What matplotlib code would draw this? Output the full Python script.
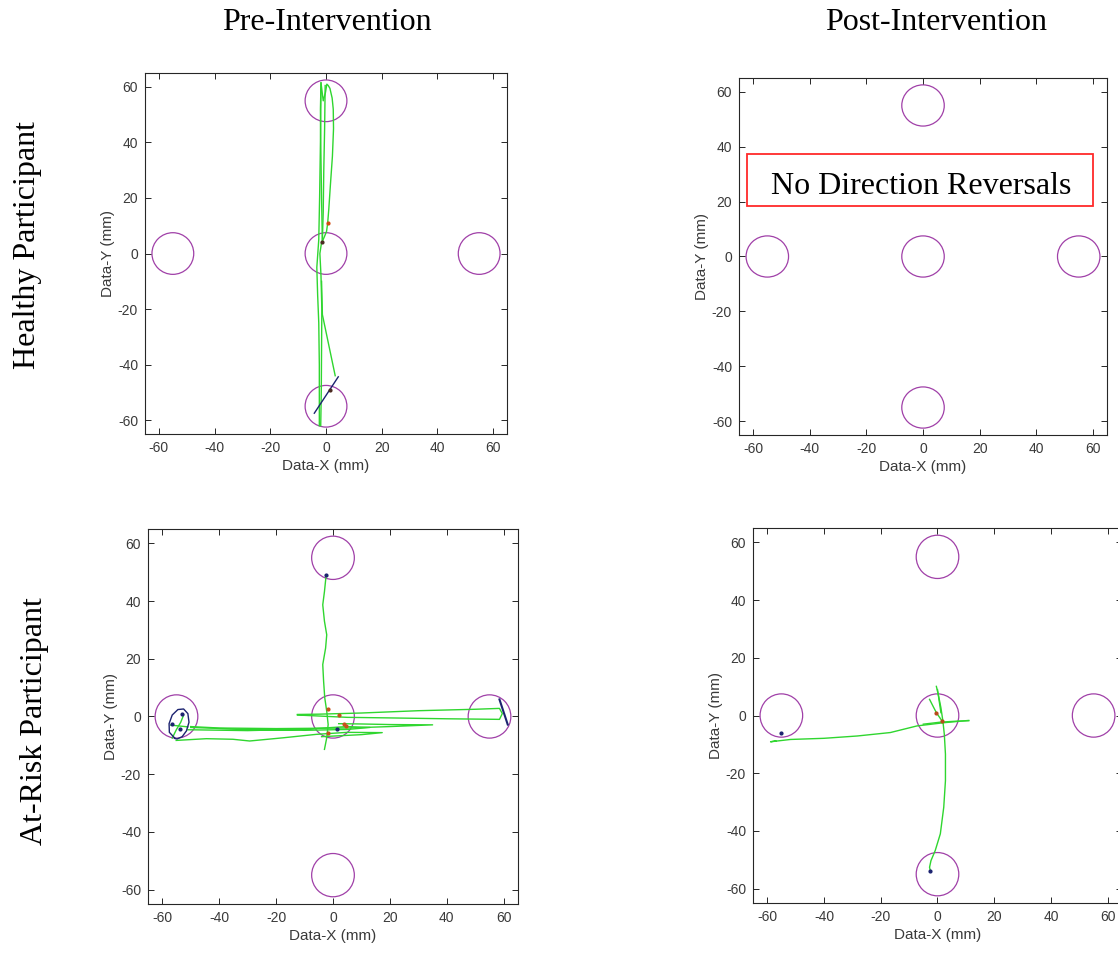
import matplotlib.pyplot as plt
from matplotlib.patches import Circle, Rectangle

# targets (mm)
target_x = [0, 55, 0, -55, 0]
target_y = [0, 0, 55, 0, -55]
target_r = 7.5

ticks = [-60, -40, -20, 0, 20, 40, 60]
col_titles = ["Pre-Intervention", "Post-Intervention"]
row_titles = ["Healthy Participant", "At-Risk Participant"]
note_text = "No Direction Reversals"

# --- healthy, pre-intervention: green trajectories
pre_h_x1 = [-1.3, -1.6, -1.9, -2.0, -1.8, -1.0, -0.2, 0.3, 0.8, 1.4, 2.2, 2.6, 2.7, 2.3, 1.6, 1.0, 0.6, 0.2, -0.6, -1.5]
pre_h_y1 = [4, 20, 40, 52, 61.5, 55, 58, 61.0, 60.5, 59.5, 56, 52, 45, 35, 25, 16, 11, 8, 6, 4]
pre_h_x2 = [-0.3, -0.5, -0.8, -1.0, -1.3]
pre_h_y2 = [60.5, 45, 30, 15, 5]
pre_h_x3 = [-1.8, -2.0, -2.3, -2.6, -3.3, -3.0, -2.6, -2.4, -2.4]
pre_h_y3 = [61.5, 40, 20, 5, -5, -15, -25, -40, -62]
pre_h_x4 = [-1.9, -1.7, -1.6, -1.5, -1.8, -2.2, -1.6]
pre_h_y4 = [-62, -50, -35, -20, -8, 0, 4]
pre_h_x5 = [-1.6, -1.3, 3.3]
pre_h_y5 = [-10, -22, -44]
pre_h_blue_x = [-4.2, 4.4]
pre_h_blue_y = [-57.5, -44.4]
pre_h_red_x = [0.6]
pre_h_red_y = [10.9]
pre_h_dark_x = [-1.3, 1.5]
pre_h_dark_y = [4.0, -49.0]

# --- at-risk, pre-intervention
pre_r_x1 = [-2.4, -3.0, -3.6, -3.0, -2.2, -2.6, -3.6, -3.3, -2.9, -2.2, -1.7, -2.2, -3.0]
pre_r_y1 = [49.1, 43.3, 38.7, 33.0, 28.3, 23.7, 18.0, 12.2, 6.5, 1.8, -2.8, -7.4, -11.4]
pre_r_x2 = [-12.5, -5, 10, 30, 50, 58.5, 59.5, 58.5, 40, 20, 5, -8, -12.5]
pre_r_y2 = [0.7, 0.8, 1.2, 2.0, 2.5, 2.8, 1.0, -1.0, -0.8, -0.5, -0.3, 0.3, 0.5]
pre_r_x3 = [2, 10, 20, 35, 20, 5, -20, -40, -50]
pre_r_y3 = [-2.5, -2.6, -2.8, -2.9, -3.5, -4.0, -4.2, -4.0, -3.5]
pre_r_x4 = [-50, -30, -10, 5, 13, 5, -10, -30, -51]
pre_r_y4 = [-3.8, -4.5, -4.8, -4.5, -3.8, -3.5, -4.4, -4.9, -4.6]
pre_r_x5 = [-55.1, -44.5, -35.2, -29.3, -17.6, -5.9, 5, 17.3, 10, 0, -4]
pre_r_y5 = [-8.3, -7.7, -7.9, -8.5, -7.4, -6.2, -5.5, -5.6, -6.3, -6.8, -7.0]
pre_r_x6 = [-56.5, -55.0, -53.5, -52.5]
pre_r_y6 = [-7.5, -4.5, -2.0, 0.5]
pre_r_x7 = [-57.0, -54.0, -51.0]
pre_r_y7 = [-3.0, -3.3, -3.6]
pre_r_ell_x = [-55.5, -57.5, -57.6, -56.5, -54.5, -52.5, -51.0, -50.6, -51.5, -53.0, -54.8, -55.5]
pre_r_ell_y = [-7.6, -5.5, -2.5, 0.5, 2.4, 2.6, 1.0, -2.0, -5.0, -7.0, -7.8, -7.6]
pre_r_blue_x = [58.5, 61.4]
pre_r_blue_y = [5.9, -2.8]
pre_r_red_x = [-1.6, 2.0, 4.0, 4.6, -1.8]
pre_r_red_y = [2.6, 0.5, -2.5, -3.3, -5.9]
pre_r_dark_x = [-2.4, 1.3, -53.1, -56.5, -53.7]
pre_r_dark_y = [49.1, -4.3, 0.7, -2.5, -4.3]

# --- at-risk, post-intervention
post_r_x1 = [11.0, 2.2, -7.2, -16.6, -28.3, -40.0, -51.8, -58.8, -57.0]
post_r_y1 = [-1.7, -2.5, -3.6, -5.9, -7.1, -7.9, -8.3, -9.1, -8.8]
post_r_x2 = [-5.0, 1.0, 6.0, 11.0]
post_r_y2 = [-3.0, -2.3, -2.0, -1.8]
post_r_x3 = [-0.4, 0.4, 1.2, 1.9, 2.4, 2.8, 2.8, 2.2, 1.0, -0.8, -2.3, -2.8, -2.5]
post_r_y3 = [10.1, 6.7, 2.7, -1.9, -6.5, -13.4, -22.6, -31.8, -41.0, -46.8, -50.3, -52.6, -53.9]
post_r_x4 = [-2.8, -1.3, -0.4, 1.6]
post_r_y4 = [5.6, 2.7, 1.0, -1.9]
post_r_x5 = [0.0, 0.6, 1.2]
post_r_y5 = [9.0, 5.0, 1.0]
post_r_red_x = [-0.4, 1.6]
post_r_red_y = [1.0, -1.9]
post_r_dark_x = [-55.0, -2.5]
post_r_dark_y = [-5.9, -53.9]

green = "#2fd62f"
purple = "#a040a8"
navy = "#1c2370"

plt.rcParams["font.family"] = ["Liberation Sans", "DejaVu Sans"]
plt.rcParams["axes.unicode_minus"] = False

fig = plt.figure(figsize=(11.18, 9.56), dpi=100)
positions = [
    [0.1297, 0.5460, 0.3238, 0.3776],
    [0.6610, 0.5450, 0.3292, 0.3734],
    [0.1324, 0.0544, 0.3309, 0.3923],
    [0.6735, 0.0554, 0.3301, 0.3923],
]
axes = [fig.add_axes(p) for p in positions]

for ax in axes:
    for cx, cy in zip(target_x, target_y):
        ax.add_patch(Circle((cx, cy), target_r, fill=False, ec=purple, lw=0.9))
    ax.set_xlim(-65, 65)
    ax.set_ylim(-65, 65)
    ax.set_xticks(ticks)
    ax.set_yticks(ticks)
    ax.tick_params(direction="in", top=True, right=True, length=4, width=0.7,
                   colors="#262626", labelcolor="#3a3a3a", labelsize=10, pad=5)
    for s in ax.spines.values():
        s.set_color("#262626")
        s.set_linewidth(0.8)
    ax.set_xlabel("Data-X (mm)", fontsize=11, color="#3a3a3a", labelpad=3)
    ax.set_ylabel("Data-Y (mm)", fontsize=11, color="#3a3a3a", labelpad=2)

# healthy pre
ax = axes[0]
for xs, ys in [(pre_h_x1, pre_h_y1), (pre_h_x2, pre_h_y2), (pre_h_x3, pre_h_y3),
               (pre_h_x4, pre_h_y4), (pre_h_x5, pre_h_y5)]:
    ax.plot(xs, ys, color=green, lw=1.0)
ax.plot(pre_h_blue_x, pre_h_blue_y, color=navy, lw=1.0)
ax.plot(pre_h_red_x, pre_h_red_y, "o", color="#d24a10", ms=2)
ax.plot(pre_h_dark_x, pre_h_dark_y, "o", color="#4a2a20", ms=2)

# healthy post
ax = axes[1]
ax.add_patch(Rectangle((-62, 18.3), 122, 18.9, fill=False, ec="#ff2a2a", lw=1.3))
ax.text(-0.6, 22.7, note_text, ha="center", va="baseline", fontsize=23,
        family=["Liberation Serif", "DejaVu Serif"], color="black")

# at-risk pre
ax = axes[2]
for xs, ys in [(pre_r_x1, pre_r_y1), (pre_r_x2, pre_r_y2), (pre_r_x3, pre_r_y3),
               (pre_r_x4, pre_r_y4), (pre_r_x5, pre_r_y5), (pre_r_x6, pre_r_y6),
               (pre_r_x7, pre_r_y7)]:
    ax.plot(xs, ys, color=green, lw=1.0)
ax.plot(pre_r_ell_x, pre_r_ell_y, color=navy, lw=1.0)
ax.plot(pre_r_blue_x, pre_r_blue_y, color=navy, lw=1.5)
ax.plot(pre_r_red_x, pre_r_red_y, "o", color="#c8501a", ms=2)
ax.plot(pre_r_dark_x, pre_r_dark_y, "o", color=navy, ms=2)

# at-risk post
ax = axes[3]
for xs, ys in [(post_r_x1, post_r_y1), (post_r_x2, post_r_y2), (post_r_x3, post_r_y3),
               (post_r_x4, post_r_y4), (post_r_x5, post_r_y5)]:
    ax.plot(xs, ys, color=green, lw=1.0)
ax.plot(post_r_red_x, post_r_red_y, "o", color="#b84a1a", ms=2)
ax.plot(post_r_dark_x, post_r_dark_y, "o", color=navy, ms=2)

serif = ["Liberation Serif", "DejaVu Serif"]
fig.text(327 / 1118, 1 - 22 / 956, col_titles[0], ha="center", va="center",
         fontsize=23, family=serif)
fig.text(936 / 1118, 1 - 22 / 956, col_titles[1], ha="center", va="center",
         fontsize=23, family=serif)
fig.text(28 / 1118, 1 - 245 / 956, row_titles[0], ha="center", va="center",
         rotation=90, fontsize=23, family=serif)
fig.text(35 / 1118, 1 - 721 / 956, row_titles[1], ha="center", va="center",
         rotation=90, fontsize=23, family=serif)

fig.savefig("out.png", dpi=100)
